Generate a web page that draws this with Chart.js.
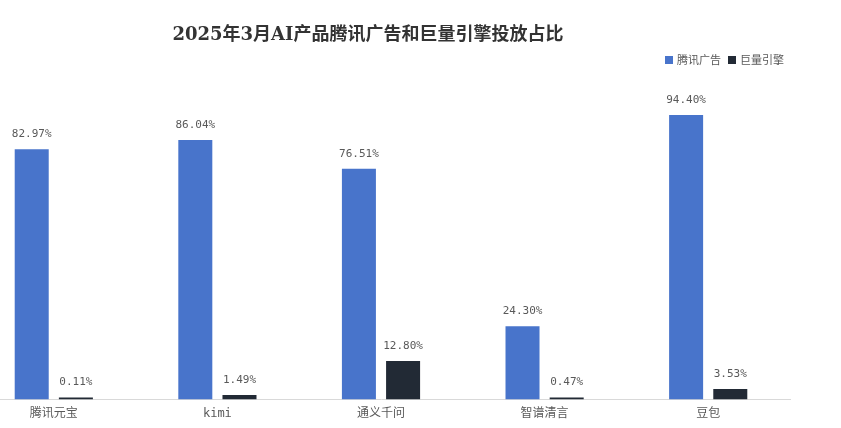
<!DOCTYPE html>
<html>
<head>
<meta charset="utf-8">
<script src="https://cdn.jsdelivr.net/npm/chart.js@4/dist/chart.umd.min.js"></script>
<style>
  html, body { margin: 0; padding: 0; background: #fff; }
  #frame { position: relative; width: 841px; height: 428px; overflow: hidden; }
  /* grid starts left of the visible area in the original, so shift the canvas */
  #box { position: absolute; left: -28px; top: 0; width: 869px; height: 428px; }
</style>
</head>
<body>
<div id="frame"><div id="box"><canvas id="chart"></canvas></div></div>
<script>
const SHIFT = 28;

const titleText = '2025年3月AI产品腾讯广告和巨量引擎投放占比';
const products = ['腾讯元宝', 'kimi', '通义千问', '智谱清言', '豆包'];
const seriesNames = ['腾讯广告', '巨量引擎'];
const tencentShare = [82.97, 86.04, 76.51, 24.30, 94.40];
const oceanShare = [0.11, 1.49, 12.80, 0.47, 3.53];
const colors = ['#4874cb', '#222a35'];

const labelFont = '11px "DejaVu Sans Mono", "Noto Sans CJK SC", monospace';

// value labels above each bar
const valueLabels = {
  id: 'valueLabels',
  afterDatasetsDraw(chart) {
    const ctx = chart.ctx;
    ctx.save();
    ctx.font = labelFont;
    ctx.fillStyle = '#595959';
    ctx.textAlign = 'center';
    ctx.textBaseline = 'middle';
    chart.data.datasets.forEach((ds, i) => {
      chart.getDatasetMeta(i).data.forEach((bar, j) => {
        ctx.fillText(ds.data[j].toFixed(2) + '%', bar.x, bar.y - 15);
      });
    });
    ctx.restore();
  }
};

// title and legend placed like the original
const header = {
  id: 'header',
  afterDraw(chart) {
    const ctx = chart.ctx;
    ctx.save();
    ctx.font = 'bold 18px "DejaVu Serif", "Noto Sans CJK SC", serif';
    ctx.fillStyle = '#333333';
    ctx.textAlign = 'center';
    ctx.textBaseline = 'middle';
    ctx.fillText(titleText, 368 + SHIFT, 35);

    ctx.font = '11px "Noto Sans CJK SC", sans-serif';
    ctx.textAlign = 'left';
    const xs = [665, 728];
    seriesNames.forEach((name, i) => {
      ctx.fillStyle = colors[i];
      ctx.fillRect(xs[i] + SHIFT, 56, 8, 8);
      ctx.fillStyle = '#595959';
      ctx.fillText(name, xs[i] + 12 + SHIFT, 60);
    });
    ctx.restore();
  }
};

new Chart(document.getElementById('chart'), {
  type: 'bar',
  data: {
    labels: products,
    datasets: [
      { label: seriesNames[0], data: tencentShare, backgroundColor: colors[0] },
      { label: seriesNames[1], data: oceanShare, backgroundColor: colors[1], minBarLength: 2 }
    ]
  },
  options: {
    responsive: true,
    maintainAspectRatio: false,
    animation: false,
    categoryPercentage: 0.54,
    barPercentage: 0.77,
    layout: { padding: { top: 98, left: 0, right: 51, bottom: 0 } },
    plugins: {
      legend: { display: false },
      title: { display: false },
      tooltip: { enabled: false }
    },
    scales: {
      x: {
        grid: { display: false, drawTicks: false },
        border: { display: true, color: '#d9d9d9', width: 1 },
        ticks: {
          padding: 7,
          color: '#595959',
          font: { family: '"DejaVu Sans Mono", "Noto Sans CJK SC", monospace', size: 12 }
        }
      },
      y: {
        display: false,
        min: 0,
        max: 100
      }
    }
  },
  plugins: [valueLabels, header]
});
</script>
</body>
</html>
